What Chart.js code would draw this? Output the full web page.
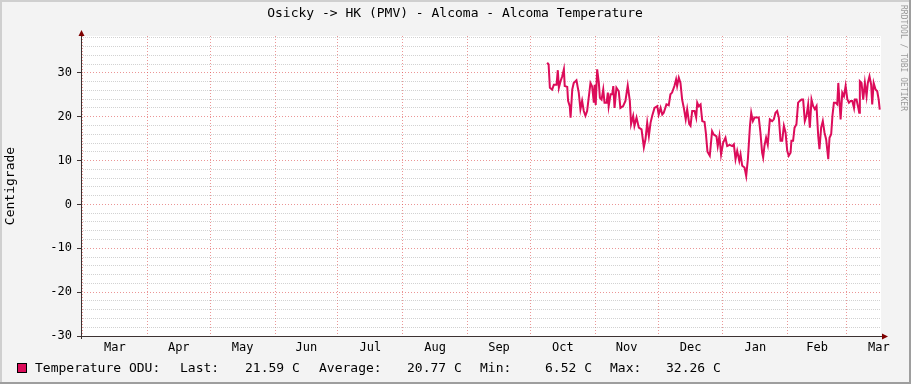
<!DOCTYPE html>
<html><head><meta charset="utf-8">
<script src="https://cdn.jsdelivr.net/npm/chart.js@4/dist/chart.umd.min.js"></script>
<style>html,body{margin:0;padding:0;background:#F3F3F3;}canvas{display:block}</style>
</head><body>
<canvas id="c" width="911" height="384"></canvas>
<script>
// ---- data ----
const chartTitle = 'Osicky -> HK (PMV) - Alcoma - Alcoma Temperature';
const yAxisTitle = 'Centigrade';
const watermark = 'RRDTOOL / TOBI OETIKER';
const monthLabels = ['Mar','Apr','May','Jun','Jul','Aug','Sep','Oct','Nov','Dec','Jan','Feb','Mar'];
const monthStartDays = [0,31,61,92,122,153,184,214,245,275,306,337,365];
const monthLengths = [31,30,31,30,31,31,30,31,30,31,31,28,31];
const yLabelValues = [-30,-20,-10,0,10,20,30];
const seriesName = 'Temperature ODU:';
const legendStats = ['Last:','21.59 C','Average:','20.77 C','Min:','6.52 C','Max:','32.26 C'];
// day offsets (days since the first March shown)
const sampleDays = [222.0,222.7,223.3,224.4,225.2,226.5,227.1,227.6,228.4,229.2,
230.0,230.4,231.6,232.0,232.8,233.2,234.0,234.7,236.0,237.1,
237.9,238.7,239.5,240.3,241.1,242.7,243.5,244.3,244.7,245.2,
245.9,246.7,247.2,248.0,248.8,249.4,250.4,251.0,251.4,252.3,
253.1,253.6,254.2,255.1,256.2,257.0,258.3,259.4,260.5,261.5,
262.1,263.1,263.7,264.7,265.8,267.1,268.2,269.0,269.8,270.6,
271.4,272.2,273.3,274.6,275.3,276.2,277.0,277.7,279.0,280.1,
280.9,281.7,282.8,283.6,284.1,284.9,285.7,286.5,287.3,288.2,
288.9,289.9,290.5,291.3,292.4,293.2,293.7,294.4,295.3,296.1,
297.2,297.8,298.6,299.7,300.8,301.6,302.9,303.5,304.3,305.1,
306.1,307.2,308.0,309.2,310.4,311.2,312.0,312.8,313.8,314.4,
315.2,316.3,317.1,317.9,318.9,319.5,320.3,321.1,322.4,323.1,
323.9,324.7,325.2,325.8,326.6,327.4,328.4,329.5,330.3,331.1,
331.9,332.7,333.5,334.3,335.1,335.9,336.7,337.4,338.3,338.7,
339.5,340.2,341.1,341.9,342.7,343.5,344.3,345.1,345.9,346.7,
347.5,348.3,349.1,349.9,350.7,351.5,352.1,352.9,353.7,354.5,
355.3,356.3,356.9,357.7,358.3,359.0,359.8,360.6,361.1,361.7,
362.2,363.0,363.8,364.6,365.4,366.2,367.0,367.8,368.6,369.0,
369.8,370.5,371.1,371.4,372.2,373.0,373.8,374.6,375.2,376.0,
376.8,377.3,378.0,378.9,379.7,380.4,380.9];
const temperatures = [32.3,31.9,26.6,26.2,27.3,27.3,30.6,26.6,28.1,29.2,
30.8,27.0,26.8,23.6,22.4,19.8,26.2,27.7,28.3,25.5,
21.7,23.6,21.3,20.2,21.3,27.7,26.9,23.2,27.3,22.7,
30.8,27.7,24.3,23.9,26.2,23.2,23.2,25.5,22.4,25.1,
25.1,27.0,22.0,26.6,25.8,22.0,22.4,23.6,27.1,23.6,
18.3,20.2,17.9,19.8,17.5,17.1,13.0,14.9,18.6,15.6,
18.6,20.2,22.0,22.4,20.5,22.0,20.5,20.9,22.8,22.6,
25.1,25.5,27.0,28.5,27.0,28.9,27.7,23.9,22.0,19.4,
21.7,18.3,17.9,21.3,21.3,19.8,23.2,22.4,22.8,19.0,
18.8,16.4,12.0,11.1,16.7,15.9,15.5,13.3,15.6,11.4,
14.1,15.2,13.3,13.6,13.3,13.7,10.3,12.2,9.9,11.4,
8.8,8.4,6.5,10.3,17.9,20.9,19.0,19.8,19.8,19.8,
16.4,11.8,10.7,13.3,15.2,13.6,19.4,19.0,19.4,20.9,
21.3,19.8,14.5,14.5,17.9,16.4,12.2,11.1,11.8,14.5,
14.5,17.5,18.3,23.2,23.6,23.9,23.9,19.0,20.2,22.8,
17.5,23.9,22.4,21.7,22.4,15.6,12.6,17.5,19.0,16.4,
14.8,10.3,15.2,16.0,20.2,23.2,23.2,22.8,27.7,23.2,
19.4,25.5,24.7,27.0,24.0,23.2,23.6,23.6,22.0,23.9,
23.9,22.4,20.9,28.1,27.7,23.9,27.7,24.7,27.7,29.2,
27.3,22.8,27.7,26.2,25.8,23.9,21.6];

// ---- rendering ----
const LINE_COLOR = '#DC0C5A';
const MONO = '"DejaVu Sans Mono", monospace';
const monthMids = monthStartDays.map((d,i)=>d+monthLengths[i]/2);
const labelAt = {};
monthMids.forEach((d,i)=>{ labelAt[d.toFixed(2)] = monthLabels[i]; });
const isBoundary = v => monthStartDays.includes(v);
const isYLabel = v => yLabelValues.includes(v);

const decor = {
  id:'decor',
  beforeDraw(chart){
    const {ctx, chartArea:a} = chart;
    ctx.save();
    ctx.fillStyle='#F3F3F3'; ctx.fillRect(0,0,chart.width,chart.height);
    ctx.fillStyle='#FFFFFF'; ctx.fillRect(a.left,a.top,a.right-a.left,a.bottom-a.top);
    ctx.restore();
  },
  afterDraw(chart){
    const {ctx, chartArea:a} = chart;
    ctx.save();
    // axes
    ctx.strokeStyle='#3c3232'; ctx.lineWidth=1;
    ctx.beginPath(); ctx.moveTo(a.left+0.5, a.bottom+3); ctx.lineTo(a.left+0.5, a.top-2); ctx.stroke();
    ctx.beginPath(); ctx.moveTo(a.left-3, a.bottom+0.5); ctx.lineTo(a.right+3, a.bottom+0.5); ctx.stroke();
    ctx.fillStyle='#7F0000';
    ctx.beginPath(); ctx.moveTo(a.left+0.5, a.top-6); ctx.lineTo(a.left-2.5, a.top); ctx.lineTo(a.left+3.5, a.top); ctx.closePath(); ctx.fill();
    ctx.beginPath(); ctx.moveTo(a.right+7, a.bottom+0.5); ctx.lineTo(a.right+1, a.bottom-2.5); ctx.lineTo(a.right+1, a.bottom+3.5); ctx.closePath(); ctx.fill();
    // title
    ctx.fillStyle='#000'; ctx.font='13px '+MONO; ctx.textAlign='center'; ctx.textBaseline='middle';
    ctx.fillText(chartTitle, 455, 14);
    // y title
    ctx.save(); ctx.translate(11, (a.top+a.bottom)/2); ctx.rotate(-Math.PI/2);
    ctx.fillText(yAxisTitle, 0, 0); ctx.restore();
    // legend
    ctx.fillStyle=LINE_COLOR; ctx.fillRect(17.5,363.5,9,9);
    ctx.strokeStyle='#000'; ctx.strokeRect(17.5,363.5,9,9);
    ctx.fillStyle='#000'; ctx.textAlign='left';
    ctx.fillText(seriesName, 35, 369);
    const xs=[180,245,319,407,480,545,610,666];
    legendStats.forEach((t,i)=>ctx.fillText(t, xs[i], 369));
    // watermark
    ctx.save(); ctx.translate(903, 5); ctx.rotate(Math.PI/2);
    ctx.fillStyle='#9a9a9a'; ctx.font='8px '+MONO; ctx.textBaseline='middle';
    ctx.fillText(watermark, 0, 0); ctx.restore();
    // frame
    ctx.fillStyle='#CFCFCF'; ctx.fillRect(0,0,chart.width,2); ctx.fillRect(0,0,2,chart.height);
    ctx.fillStyle='#9E9E9E'; ctx.fillRect(chart.width-2,0,2,chart.height); ctx.fillRect(0,chart.height-2,chart.width,2);
    ctx.restore();
  }
};

new Chart(document.getElementById('c'), {
  type:'line',
  data:{ datasets:[{
    label: seriesName,
    data: sampleDays.map((d,i)=>({x:d, y:temperatures[i]})),
    borderColor: LINE_COLOR, borderWidth:2, pointRadius:0, tension:0, fill:false
  }]},
  options:{
    responsive:false, animation:false, devicePixelRatio:1,
    layout:{padding:{left:0, top:36, right:30, bottom:0}},
    plugins:{legend:{display:false}, title:{display:false}, tooltip:{enabled:false}},
    scales:{
      x:{
        type:'linear', min:-0.7, max:381.5, bounds:'data',
        afterBuildTicks(s){
          const t=[...monthStartDays, ...monthMids].sort((p,q)=>p-q);
          s.ticks=t.map(v=>({value:v}));
        },
        afterFit(s){ s.height=48; },
        ticks:{ autoSkip:false, maxRotation:0, minRotation:0, padding:2, color:'#000',
          font:{family:MONO, size:12},
          callback:(v)=> labelAt[Number(v).toFixed(2)] || '' },
        grid:{ drawTicks:true, tickLength:3, tickColor:'rgba(0,0,0,0)', lineWidth:1,
          color:(c)=> (c.tick && isBoundary(c.tick.value)) ? 'rgba(222,80,80,0.6)' : 'rgba(0,0,0,0)' },
        border:{display:false, dash:[1,2]}
      },
      y:{
        type:'linear', min:-30, max:38.4, bounds:'data',
        afterBuildTicks(s){ const t=[]; for(let v=-30; v<=38; v+=2) t.push({value:v}); s.ticks=t; },
        afterFit(s){ s.width=81; },
        ticks:{ autoSkip:false, padding:5, color:'#000', font:{family:MONO, size:12},
          callback:(v)=> isYLabel(v) ? String(v) : '' },
        grid:{ drawTicks:true, tickLength:4, lineWidth:1,
          tickColor:(c)=> (c.tick && isYLabel(c.tick.value)) ? '#3c3232' : 'rgba(0,0,0,0)',
          color:(c)=> (c.tick && isYLabel(c.tick.value)) ? 'rgba(222,80,80,0.6)' : 'rgba(143,143,143,0.4)' },
        border:{display:false, dash:(c)=> (c.tick && isYLabel(c.tick.value)) ? [1,2] : [1,1]}
      }
    }
  },
  plugins:[decor]
});
</script>
</body></html>
